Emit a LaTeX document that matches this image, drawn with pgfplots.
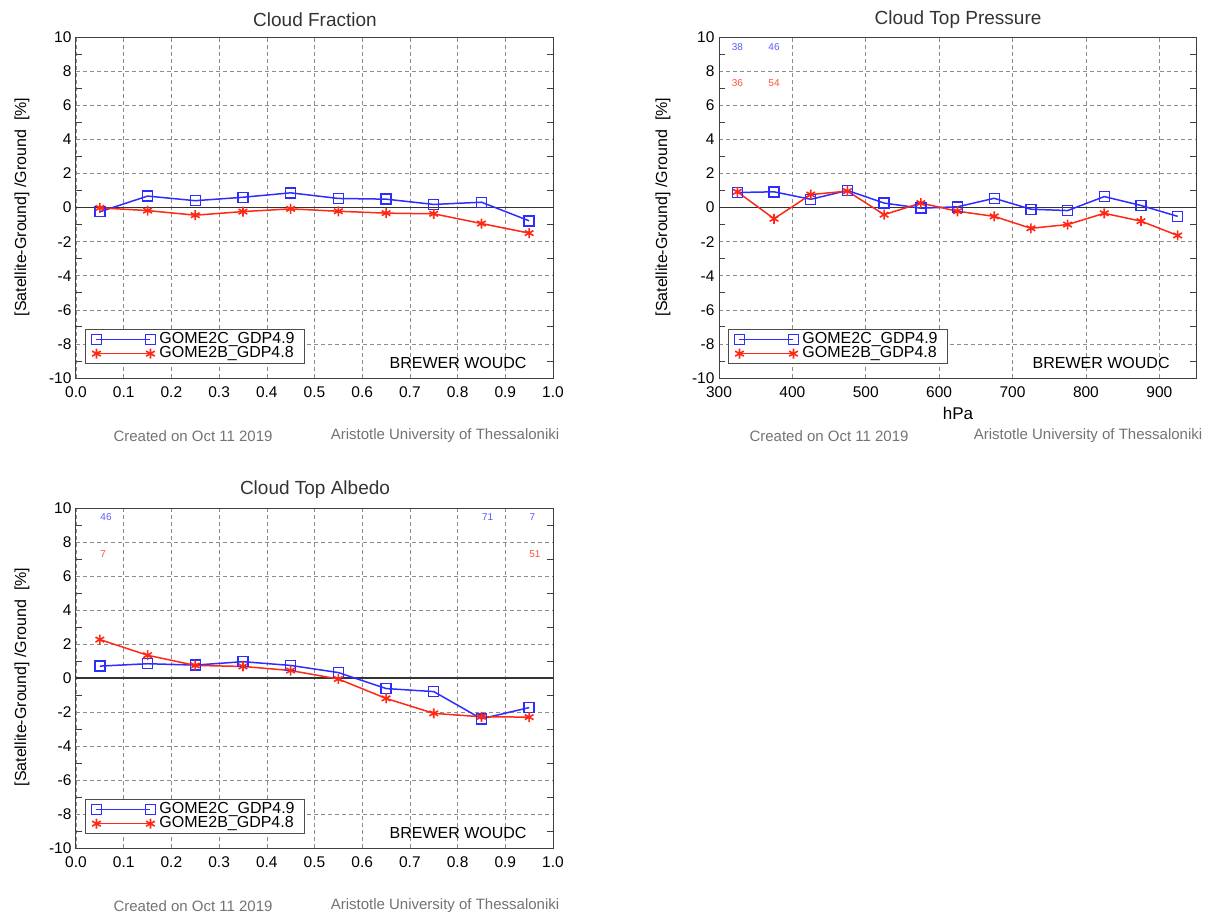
\documentclass[border=0pt]{standalone}
\usepackage{fontspec}
\setmainfont{Liberation Sans}
\usepackage{pgfplots}
\pgfplotsset{compat=1.18}
\definecolor{myblue}{RGB}{45,45,255}
\definecolor{myred}{RGB}{255,40,20}
\definecolor{lblue}{RGB}{90,90,255}
\definecolor{lred}{RGB}{255,80,60}
\pgfplotsset{
  base/.style={
    scale only axis, width=477pt, height=341pt,
    anchor=south west,
    ymin=-10, ymax=10, ytick={-10,-8,...,10},
    minor y tick num=1,
    axis line style={black!75, line width=1pt},
    grid=major,
    major grid style={black!45, line width=0.6pt, dash pattern=on 4pt off 3pt},
    major tick length=0pt, minor tick length=6pt,
    every tick/.style={black!75, line width=0.8pt},
    tick label style={font=\fontsize{15.5}{15.5}\selectfont},
    xticklabel style={yshift=-5pt},
    yticklabel style={xshift=-1pt},
    /pgf/number format/assume math mode=true,
    legend style={at={(axis description cs:0.019,0.041)}, anchor=south west,
      font=\fontsize{16}{15}\selectfont, draw=black!70, line width=0.8pt,
      inner xsep=6pt, inner ysep=3pt, row sep=0pt,
      nodes={inner ysep=0pt, inner xsep=4pt, text height=11pt, text depth=3pt}},
    legend cell align=left,
    legend image code/.code={\draw[mark repeat=2, mark phase=1, line width=1.5pt] plot coordinates {(0pt,0pt) (27pt,0pt) (54pt,0pt)};},
  },
  bl/.style={color=myblue, draw=myblue, line width=1.5pt, mark=square, mark size=5pt, mark options={solid, draw=myblue, line width=1.4pt, fill=none}},
  rd/.style={color=myred, draw=myred, line width=1.5pt, mark=asterisk, mark size=5pt, mark options={solid, draw=myred, line width=1.6pt}},
}
\begin{document}
\begin{tikzpicture}
\path[use as bounding box] (0pt,0pt) rectangle (1213pt,-918pt);
\tikzset{foot/.style={text=black!55, font=\fontsize{15}{15}\selectfont},
  ttl/.style={text=black!80, font=\fontsize{19}{19}\selectfont},
  ylab/.style={rotate=90, font=\fontsize{16}{16}\selectfont},
  ann/.style={font=\fontsize{10}{10}\selectfont}}
% ---------- Cloud Fraction
\begin{axis}[base, at={(76pt,-378pt)},
  xmin=0, xmax=1, xtick={0,0.1,...,1.0},
  xticklabel style={/pgf/number format/.cd, fixed, fixed zerofill, precision=1}]
\addplot[black!80, line width=1.6pt, forget plot] coordinates {(0,0) (1,0)};
\addplot[bl] coordinates {(0.05,-0.25) (0.15,0.67) (0.25,0.40) (0.35,0.60) (0.45,0.86) (0.55,0.53) (0.65,0.49) (0.75,0.18) (0.85,0.31) (0.95,-0.78)};
\addplot[rd] coordinates {(0.05,-0.02) (0.15,-0.18) (0.25,-0.45) (0.35,-0.24) (0.45,-0.08) (0.55,-0.22) (0.65,-0.33) (0.75,-0.37) (0.85,-0.94) (0.95,-1.50)};
\legend{GOME2C\_GDP4.9, GOME2B\_GDP4.8}
\node[anchor=east, font=\fontsize{16}{16}\selectfont] at (axis description cs:0.952,0.044) {BREWER WOUDC};
\end{axis}
\node[ttl] at (315pt,-20pt) {Cloud Fraction};
\node[ylab] at (22pt,-207pt) {[Satellite-Ground] /Ground \ [\%]};
\node[foot] at (193pt,-436pt) {Created on Oct 11 2019};
\node[foot] at (445pt,-436pt) {Aristotle University of Thessaloniki};
% ---------- Cloud Top Pressure
\begin{axis}[base, at={(719pt,-378pt)},
  xmin=300, xmax=950, xtick={300,400,...,900}]
\addplot[black!80, line width=1.6pt, forget plot] coordinates {(300,0) (950,0)};
\addplot[bl] coordinates {(325,0.88) (375,0.92) (425,0.48) (475,1.00) (525,0.26) (575,-0.04) (625,0.04) (675,0.54) (725,-0.10) (775,-0.18) (825,0.64) (875,0.12) (925,-0.52)};
\addplot[rd] coordinates {(325,0.92) (375,-0.66) (425,0.76) (475,0.96) (525,-0.42) (575,0.26) (625,-0.22) (675,-0.52) (725,-1.22) (775,-1.00) (825,-0.34) (875,-0.80) (925,-1.64)};
\legend{GOME2C\_GDP4.9, GOME2B\_GDP4.8}
\node[anchor=east, font=\fontsize{16}{16}\selectfont] at (axis description cs:0.952,0.044) {BREWER WOUDC};
\node[ann, lblue] at (axis cs:325,9.4) {38};
\node[ann, lblue] at (axis cs:375,9.4) {46};
\node[ann, lred] at (axis cs:325,7.3) {36};
\node[ann, lred] at (axis cs:375,7.3) {54};
\end{axis}
\node[ttl] at (958pt,-20pt) {Cloud Top Pressure};
\node[ylab] at (663pt,-207pt) {[Satellite-Ground] /Ground \ [\%]};
\node[font=\fontsize{17}{17}\selectfont] at (958pt,-413pt) {hPa};
\node[foot] at (829pt,-436pt) {Created on Oct 11 2019};
\node[foot] at (1088pt,-436pt) {Aristotle University of Thessaloniki};
% ---------- Cloud Top Albedo
\begin{axis}[base, at={(76pt,-848pt)}, height=340pt,
  xmin=0, xmax=1, xtick={0,0.1,...,1.0},
  xticklabel style={/pgf/number format/.cd, fixed, fixed zerofill, precision=1}]
\addplot[black!80, line width=1.6pt, forget plot] coordinates {(0,0) (1,0)};
\addplot[bl] coordinates {(0.05,0.70) (0.15,0.84) (0.25,0.76) (0.35,0.96) (0.45,0.74) (0.55,0.32) (0.65,-0.62) (0.75,-0.80) (0.85,-2.40) (0.95,-1.74)};
\addplot[rd] coordinates {(0.05,2.26) (0.15,1.34) (0.25,0.74) (0.35,0.68) (0.45,0.44) (0.55,-0.06) (0.65,-1.20) (0.75,-2.08) (0.85,-2.28) (0.95,-2.30)};
\legend{GOME2C\_GDP4.9, GOME2B\_GDP4.8}
\node[anchor=east, font=\fontsize{16}{16}\selectfont] at (axis description cs:0.952,0.044) {BREWER WOUDC};
\node[ann, lblue] at (axis cs:0.063,9.45) {46};
\node[ann, lred] at (axis cs:0.057,7.3) {7};
\node[ann, lblue] at (axis cs:0.863,9.45) {71};
\node[ann, lblue] at (axis cs:0.957,9.45) {7};
\node[ann, lred] at (axis cs:0.962,7.3) {51};
\end{axis}
\node[ttl] at (315pt,-490pt) {Cloud Top Albedo};
\node[ylab] at (22pt,-677pt) {[Satellite-Ground] /Ground \ [\%]};
\node[foot] at (193pt,-906pt) {Created on Oct 11 2019};
\node[foot] at (445pt,-906pt) {Aristotle University of Thessaloniki};
\end{tikzpicture}
\end{document}
